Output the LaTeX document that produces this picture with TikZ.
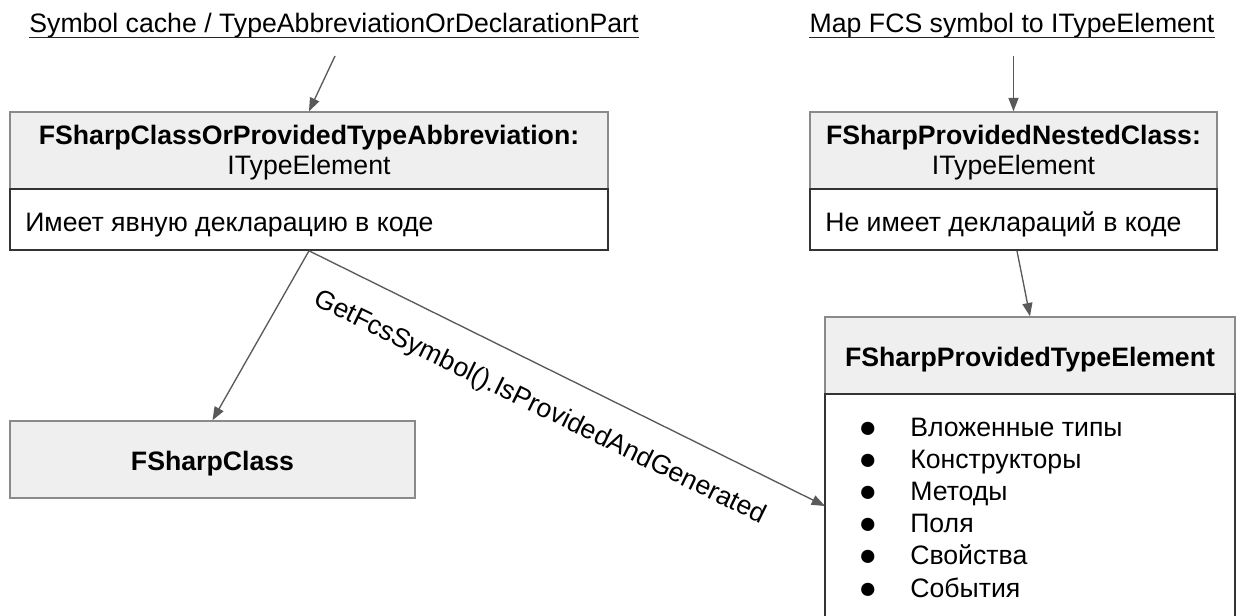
\documentclass[tikz,border=0pt]{standalone}
\usepackage{fontspec}
\setmainfont{Liberation Sans}
\usetikzlibrary{arrows.meta,fit}
\definecolor{hdrfill}{HTML}{EFEFEF}
\definecolor{hdrline}{HTML}{8A8A8A}
\definecolor{bodyline}{HTML}{333333}
\definecolor{arrgray}{HTML}{595959}
\tikzset{
  hdr/.style={draw=hdrline, fill=hdrfill, inner sep=0pt, line width=1.1pt},
  bodybox/.style={draw=bodyline, fill=white, inner sep=0pt, line width=1.2pt},
  arr/.style={draw=arrgray, line width=1pt, -{Triangle[length=10pt,width=7.5pt]}},
  txt/.style={font=\fontsize{20pt}{22.5pt}\selectfont, inner sep=0pt, text=black},
  btxt/.style={txt, font=\fontsize{20pt}{22.5pt}\selectfont\bfseries},
  bul/.style={txt, font=\fontsize{23pt}{24pt}\selectfont},
  title/.style={txt},
  uline/.style={draw=black!85, line width=1pt}
}
\begin{document}
\begin{tikzpicture}[x=0.75pt,y=-0.75pt]
\useasboundingbox (0,0) rectangle (1240,615);
\clip (0,0) rectangle (1240,615);
% titles
\node[title, anchor=base] (t1) at (334,32) {Symbol cache / TypeAbbreviationOrDeclarationPart};
\draw[uline] ([yshift=-4pt]t1.base west) -- ([yshift=-4pt]t1.base east);
\node[title, anchor=base] (t2) at (1012,32) {Map FCS symbol to ITypeElement};
\draw[uline] ([yshift=-4pt]t2.base west) -- ([yshift=-4pt]t2.base east);
\coordinate (s1) at (335,56);
\coordinate (s2) at (1013.5,56);

% Box A
\node[hdr, fit={(10,112) (608,189)}] (Ah) {};
\node[bodybox, fit={(10,189) (608,250)}] (Ab) {};
\node[txt, align=center] (Aht) at (309,153) {\textbf{FSharpClassOrProvidedTypeAbbreviation:}\\ITypeElement};
\node[txt, anchor=base west] (Abt) at (25,231) {Имеет явную декларацию в коде};

% Box B
\node[hdr, fit={(810,112) (1217,189)}] (Bh) {};
\node[bodybox, fit={(810,189) (1217,250)}] (Bb) {};
\node[txt, align=center] (Bht) at (1013.5,153) {\textbf{FSharpProvidedNestedClass:}\\ITypeElement};
\node[txt, anchor=base west] (Bbt) at (825,231) {Не имеет деклараций в коде};

% Box C
\node[hdr, fit={(10,421) (415,498)}] (C) {};
\node[btxt, anchor=base] (Ct) at (212.5,470) {FSharpClass};

% Box D
\node[hdr, fit={(825,317) (1235,394)}] (Dh) {};
\node[bodybox, fit={(825,394) (1235,640)}] (Db) {};
\node[btxt, anchor=base] (Dht) at (1030,366) {FSharpProvidedTypeElement};
\foreach \t [count=\i from 0] in {Вложенные типы,Конструкторы,Методы,Поля,Свойства,События}{
  \node[bul, anchor=base] (db\i) at (868,437+32.2*\i) {●};
  \node[txt, anchor=base west] (dt\i) at (910,436+32.2*\i) {\t};
}
\coordinate (Din) at (825,506);

% connectors
\draw[arr] (s1) -- (Ah.north);
\draw[arr] (s2) -- (Bh.north);
\draw[arr] (Ab.south) -- (C.north);
\draw[arr] (Ab.south) -- (Din);
\draw[arr] ([xshift=2.6pt]Bb.south) -- (Dh.north);
\node[txt, rotate=-26.1] (lbl) at (540,408) {GetFcsSymbol().IsProvidedAndGenerated};
\end{tikzpicture}
\end{document}
